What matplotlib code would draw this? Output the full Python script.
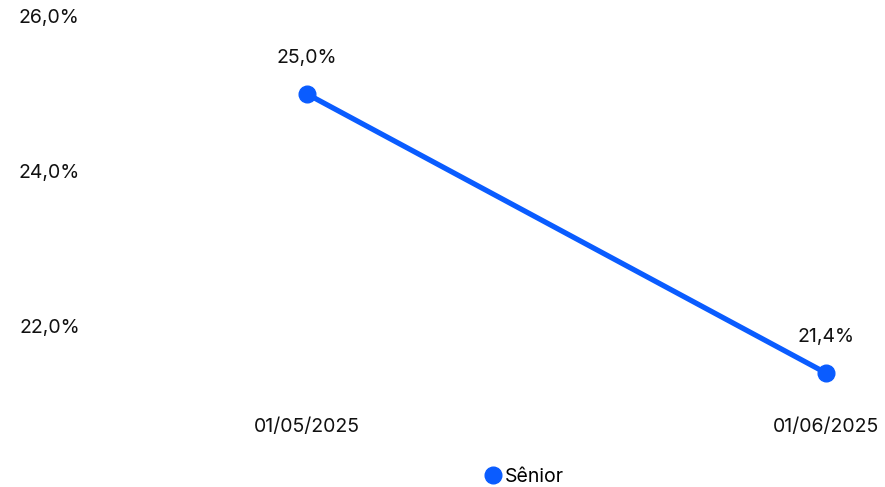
import matplotlib
matplotlib.use("Agg")
import matplotlib.pyplot as plt
from matplotlib.ticker import FuncFormatter

plt.rcParams['font.family'] = ['Inter', 'DejaVu Sans']

dates = ['01/05/2025', '01/06/2025']
senior = [25.0, 21.4]
series_name = 'Sênior'
y_ticks = [22, 24, 26]

BLUE = '#0A5CFF'
TXT = '#111111'

fig = plt.figure(figsize=(8.85, 4.87), dpi=100)
# axes placed so that data lines up with the reference pixels
ax = fig.add_axes([95 / 885, 1 - 404 / 487, 790 / 885, 387.5 / 487])

x = list(range(len(dates)))
line, = ax.plot(x, senior, color=BLUE, lw=3.8, marker='o', ms=12,
                clip_on=False, label=series_name)

for xi, v in zip(x, senior):
    ax.annotate(f"{v:.1f}%".replace('.', ','), (xi, v), xytext=(0, 26),
                textcoords='offset points', ha='center', va='center',
                fontsize=14, color=TXT)

ax.set_xlim(-0.4085, 1.1137)
ax.set_ylim(21.0, 26.0)
ax.set_xticks(x)
ax.set_xticklabels(dates)
ax.set_yticks(y_ticks)
ax.yaxis.set_major_formatter(FuncFormatter(lambda v, p: f"{v:.1f}%".replace('.', ',')))
ax.tick_params(length=0, labelsize=14, colors=TXT)
ax.tick_params(axis='x', pad=10)
ax.tick_params(axis='y', pad=11)
for s in ax.spines.values():
    s.set_visible(False)

leg = fig.legend(handles=[line], loc='center', bbox_to_anchor=(528 / 885, 1 - 477 / 487),
                 frameon=False, fontsize=14, handlelength=0, handletextpad=0.6,
                 markerscale=1.0)
for h in leg.legend_handles:
    h.set_linestyle('none')

fig.savefig('out.png', dpi=100)
